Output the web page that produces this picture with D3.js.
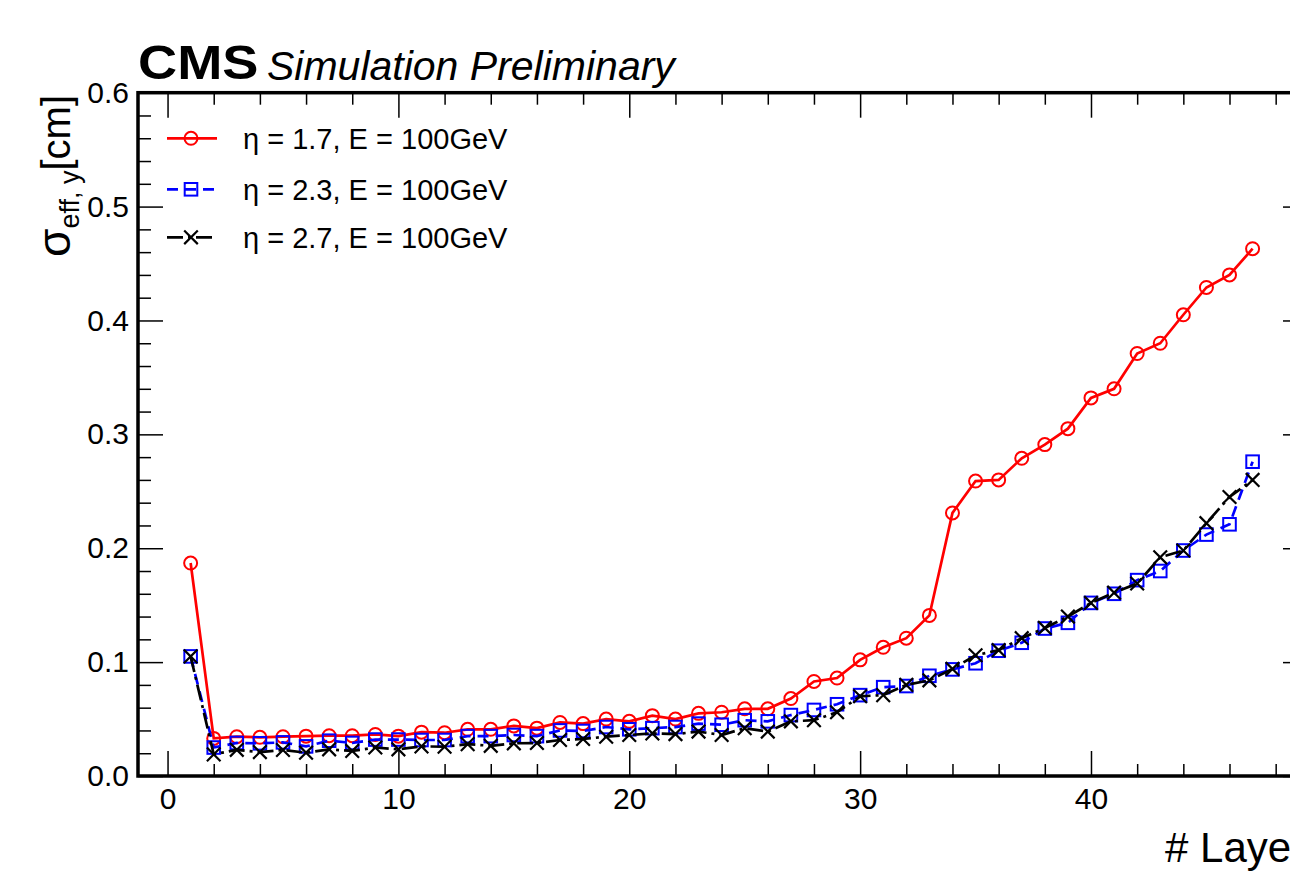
<!DOCTYPE html>
<html>
<head>
<meta charset="utf-8">
<script src="https://cdn.jsdelivr.net/npm/d3@7"></script>
<style>
  html, body { margin: 0; padding: 0; background: #fff; }
  svg { display: block; }
  text { font-family: "Liberation Sans", Arial, Helvetica, sans-serif; fill: #000; }
</style>
</head>
<body>
<svg id="chart" width="1290" height="891"></svg>
<script>
// ---------------- data ----------------
const layers = d3.range(1, 48); // 1..47

const eta17 = [0.187, 0.033, 0.0345, 0.034, 0.0345, 0.035, 0.0354, 0.0354, 0.0365, 0.035,
  0.0385, 0.038, 0.041, 0.041, 0.044, 0.042, 0.047, 0.046, 0.050, 0.048,
  0.053, 0.050, 0.055, 0.056, 0.059, 0.059, 0.068, 0.083, 0.086, 0.102,
  0.113, 0.121, 0.141, 0.231, 0.259, 0.260, 0.279, 0.291, 0.305, 0.332,
  0.340, 0.371, 0.380, 0.405, 0.429, 0.440, 0.463];

const eta23 = [0.105, 0.025, 0.029, 0.0287, 0.0295, 0.026, 0.031, 0.029, 0.032, 0.032,
  0.0316, 0.0316, 0.035, 0.035, 0.036, 0.035, 0.040, 0.0395, 0.043, 0.041,
  0.042, 0.043, 0.046, 0.045, 0.049, 0.048, 0.0535, 0.058, 0.063, 0.071,
  0.078, 0.079, 0.088, 0.0936, 0.099, 0.110, 0.117, 0.1295, 0.1345, 0.152,
  0.160, 0.172, 0.180, 0.198, 0.212, 0.221, 0.276];

const eta27 = [0.105, 0.019, 0.023, 0.021, 0.0228, 0.0205, 0.0234, 0.022, 0.025, 0.0234,
  0.026, 0.0257, 0.028, 0.0265, 0.0287, 0.029, 0.0316, 0.0325, 0.0345, 0.036,
  0.0374, 0.0368, 0.039, 0.036, 0.042, 0.039, 0.048, 0.049, 0.056, 0.070,
  0.071, 0.080, 0.084, 0.094, 0.106, 0.1105, 0.121, 0.130, 0.140, 0.152,
  0.161, 0.169, 0.192, 0.198, 0.222, 0.245, 0.260];

const seriesNames = ["η = 1.7, E = 100GeV", "η = 2.3, E = 100GeV", "η = 2.7, E = 100GeV"];
const xMajorTicks = [0, 10, 20, 30, 40];
const yMajorTicks = [0, 0.1, 0.2, 0.3, 0.4, 0.5, 0.6];

// ---------------- layout ----------------
const svg = d3.select("#chart");
const L = 138, R = 1308, T = 92.7, B = 776;

const x = d3.scaleLinear().domain([-1.28, 49.4]).range([L, R]);
const y = d3.scaleLinear().domain([0, 0.6]).range([B, T]);

const series = [
  { name: seriesNames[0], values: eta17, color: "#ff0000", dash: null, marker: "circle" },
  { name: seriesNames[1], values: eta23, color: "#0000ff", dash: "11,7", marker: "square" },
  { name: seriesNames[2], values: eta27, color: "#000000", dash: "16,5,3,5", marker: "cross" }
];

// ---------------- axes ----------------
const xMinor = d3.range(0, 50, 2).filter(v => v % 10 !== 0);
const yMinor = d3.range(0, 0.6001, 0.02).filter(v => Math.abs(Math.round(v * 10) - v * 10) > 1e-6);

const axisStyle = g => {
  g.select(".domain").remove();
  g.selectAll(".tick line").attr("stroke", "#000").attr("stroke-width", 1.5);
  g.selectAll(".tick text").style("font-size", "30px").style("font-family", "'Liberation Sans', Arial, sans-serif").attr("fill", "#000");
};

// bottom
svg.append("g").attr("transform", `translate(0,${B})`)
  .call(d3.axisBottom(x).tickValues(xMajorTicks).tickSize(-25).tickPadding(12).tickFormat(d3.format("d")))
  .call(axisStyle);
svg.append("g").attr("transform", `translate(0,${B})`)
  .call(d3.axisBottom(x).tickValues(xMinor).tickSize(-12).tickFormat(""))
  .call(axisStyle);
// top
svg.append("g").attr("transform", `translate(0,${T})`)
  .call(d3.axisTop(x).tickValues(xMajorTicks).tickSize(-25).tickFormat(""))
  .call(axisStyle);
svg.append("g").attr("transform", `translate(0,${T})`)
  .call(d3.axisTop(x).tickValues(xMinor).tickSize(-12).tickFormat(""))
  .call(axisStyle);
// left
svg.append("g").attr("transform", `translate(${L},0)`)
  .call(d3.axisLeft(y).tickValues(yMajorTicks).tickSize(-25).tickPadding(9).tickFormat(d3.format(".1f")))
  .call(axisStyle);
svg.append("g").attr("transform", `translate(${L},0)`)
  .call(d3.axisLeft(y).tickValues(yMinor).tickSize(-13).tickFormat(""))
  .call(axisStyle);
// right
svg.append("g").attr("transform", `translate(${R},0)`)
  .call(d3.axisRight(y).tickValues(yMajorTicks).tickSize(-25).tickFormat(""))
  .call(axisStyle);
svg.append("g").attr("transform", `translate(${R},0)`)
  .call(d3.axisRight(y).tickValues(yMinor).tickSize(-13).tickFormat(""))
  .call(axisStyle);

// frame
svg.append("rect").attr("x", L).attr("y", T).attr("width", R - L).attr("height", B - T)
  .attr("fill", "none").attr("stroke", "#000").attr("stroke-width", 3.5);

// ---------------- series ----------------
const line = d3.line().x((d, i) => x(layers[i])).y(d => y(d));

function drawMarker(g, type, cx, cy, color) {
  if (type === "circle") {
    g.append("circle").attr("cx", cx).attr("cy", cy).attr("r", 6.5)
      .attr("fill", "none").attr("stroke", color).attr("stroke-width", 2);
  } else if (type === "square") {
    g.append("rect").attr("x", cx - 6.3).attr("y", cy - 6.3).attr("width", 12.6).attr("height", 12.6)
      .attr("fill", "none").attr("stroke", color).attr("stroke-width", 2);
  } else {
    const s = 6.8;
    g.append("path").attr("d", `M${cx - s},${cy - s}L${cx + s},${cy + s}M${cx - s},${cy + s}L${cx + s},${cy - s}`)
      .attr("fill", "none").attr("stroke", color).attr("stroke-width", 2.2);
  }
}

series.forEach(s => {
  const g = svg.append("g");
  g.append("path").datum(s.values).attr("d", line)
    .attr("fill", "none").attr("stroke", s.color).attr("stroke-width", 2.7)
    .attr("stroke-dasharray", s.dash);
  s.values.forEach((v, i) => drawMarker(g, s.marker, x(layers[i]), y(v), s.color));
});

// ---------------- legend ----------------
const legendRows = [138.3, 189.3, 237.3];
series.forEach((s, i) => {
  const g = svg.append("g");
  const ly = legendRows[i];
  g.append("line").attr("x1", 167).attr("x2", 217).attr("y1", ly).attr("y2", ly)
    .attr("stroke", s.color).attr("stroke-width", 2.7).attr("stroke-dasharray", s.dash);
  drawMarker(g, s.marker, 191, ly, s.color);
  g.append("text").attr("x", 243).attr("y", ly).attr("dy", "0.36em")
    .style("font-size", "29px").text(s.name);
});

// ---------------- titles ----------------
svg.append("text").attr("transform", "translate(138,79) scale(1.13,1)")
  .style("font-size", "48px").style("font-weight", "bold").text("CMS");
svg.append("text").attr("x", 267).attr("y", 80).style("font-size", "41px").style("font-style", "italic").text("Simulation Preliminary");

// x title (clipped at the right edge as in the reference)
svg.append("text").attr("x", 1165).attr("y", 862).style("font-size", "42px").text("# Layer");

// y title
const yt = svg.append("text").attr("transform", "translate(70,95) rotate(-90)")
  .attr("text-anchor", "end").style("font-size", "40px");
yt.append("tspan").style("font-size", "46px").text("σ");
yt.append("tspan").attr("dy", 9).style("font-size", "27px").text("eff, y");
yt.append("tspan").attr("dy", -9).text("[cm]");
</script>
</body>
</html>
